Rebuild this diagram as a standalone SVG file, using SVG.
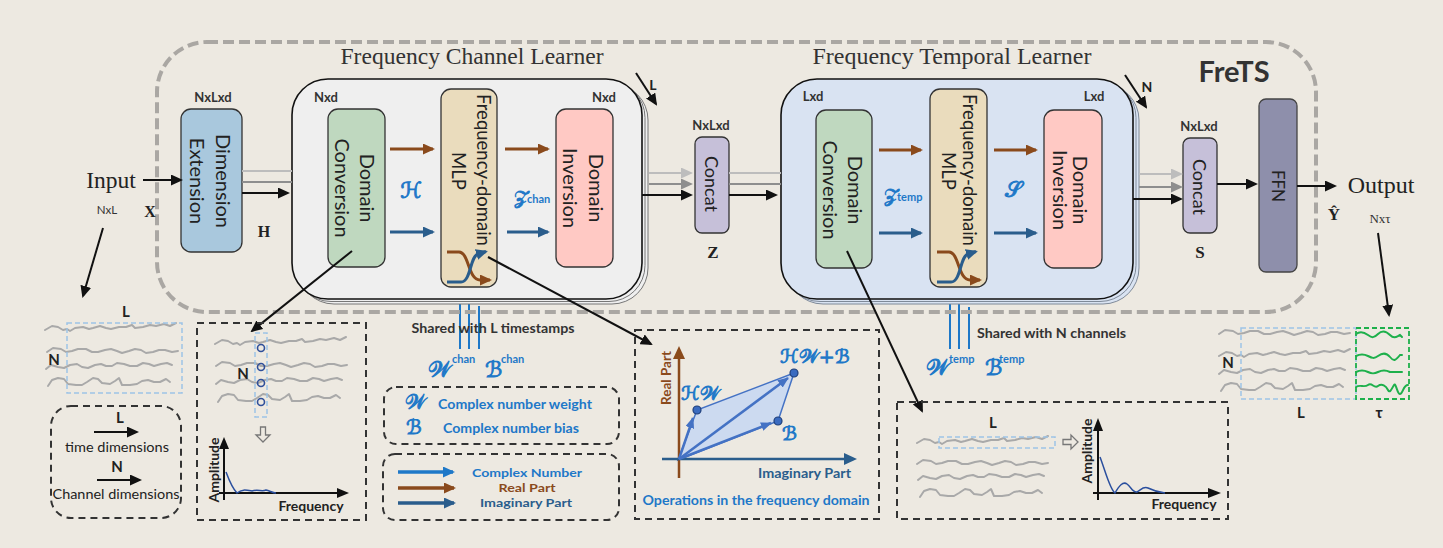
<svg xmlns="http://www.w3.org/2000/svg" width="1443" height="548" viewBox="0 0 1443 548">
<style>
.sans{font-family:Lato,"Open Sans","Noto Sans",sans-serif;}
.serif{font-family:"Liberation Serif","DejaVu Serif",serif;}
.math{font-family:"DejaVu Serif","DejaVu Sans","Noto Sans",serif;fill:#1E78C8;stroke:#1E78C8;stroke-width:0.9;}
.bt{font-family:Lato,"Open Sans",sans-serif;font-size:20px;fill:#222;text-anchor:middle;}
.lbl{font-family:Lato,"Open Sans",sans-serif;font-size:13px;font-weight:700;fill:#333;text-anchor:middle;}
.box{stroke:#333;stroke-width:1.3;}
.wave{fill:none;stroke:#A9A9A9;stroke-width:2;stroke-linecap:round;stroke-linejoin:round;}
.gwave{fill:none;stroke:#1DB04B;stroke-width:2;stroke-linecap:round;}
.dash{fill:none;stroke:#333;stroke-width:2;stroke-dasharray:7 5;}
.bdash{fill:none;stroke:#9DC3E6;stroke-width:1.5;stroke-dasharray:5 3;}
.blk{stroke:#111;stroke-width:2;fill:none;}
.br{stroke:#8A4A1C;stroke-width:3;fill:none;}
.db{stroke:#2A5D8C;stroke-width:3;fill:none;}
.bl{stroke:#1E78C8;stroke-width:2;fill:none;}
</style>
<defs>
<marker id="hk" markerUnits="userSpaceOnUse" viewBox="0 0 12 11" refX="10" refY="5.5" markerWidth="12" markerHeight="11" orient="auto"><path d="M0,0L12,5.5L0,11z" fill="#111"/></marker>
<marker id="hlg" markerUnits="userSpaceOnUse" viewBox="0 0 12 11" refX="10" refY="5.5" markerWidth="12" markerHeight="11" orient="auto"><path d="M0,0L12,5.5L0,11z" fill="#BDBDBD"/></marker>
<marker id="hg" markerUnits="userSpaceOnUse" viewBox="0 0 12 11" refX="10" refY="5.5" markerWidth="12" markerHeight="11" orient="auto"><path d="M0,0L12,5.5L0,11z" fill="#8E8E8E"/></marker>
<marker id="hbr" markerUnits="userSpaceOnUse" viewBox="0 0 12 11" refX="10" refY="5.5" markerWidth="12" markerHeight="11" orient="auto"><path d="M0,0L12,5.5L0,11z" fill="#8A4A1C"/></marker>
<marker id="hdb" markerUnits="userSpaceOnUse" viewBox="0 0 12 11" refX="10" refY="5.5" markerWidth="12" markerHeight="11" orient="auto"><path d="M0,0L12,5.5L0,11z" fill="#2A5D8C"/></marker>
<marker id="hbl" markerUnits="userSpaceOnUse" viewBox="0 0 12 11" refX="10" refY="5.5" markerWidth="12" markerHeight="11" orient="auto"><path d="M0,0L12,5.5L0,11z" fill="#1E78C8"/></marker>
<marker id="hop" markerUnits="userSpaceOnUse" viewBox="0 0 11 9" refX="10" refY="4.5" markerWidth="11" markerHeight="9" orient="auto"><path d="M0,0L11,4.5L0,9z" fill="#4472C4"/></marker>
<path id="w1" d="M0,2 l7,-4 l6,1 l5,3 l4,-1 l3,2 l5,-3 l8,-1 l6,2 l4,-1 l7,-2 l6,2 l5,1 l8,-2 l7,0 l6,-2 l3,3 l8,-1 l7,-2 l6,1 l8,-2 l6,2 l6,-3"/>
<path id="w2" d="M0,1 l6,-4 l8,1 l5,3 l6,-1 l6,-2 l8,0 l6,3 l6,0 l7,-2 l6,-1 l6,2 l5,2 l7,-2 l6,-2 l6,1 l5,3 l7,-1 l6,-2 l6,0 l7,2 l6,-1"/>
<path id="w3" d="M0,3 l5,-4 l7,2 l6,1 l6,-3 l7,-1 l5,3 l6,1 l7,-3 l6,-1 l5,2 l6,0 l5,-3 l7,1 l6,2 l7,0 l6,-3 l6,1 l5,2 l7,-2 l6,-1 l5,2"/>
<path id="w4" d="M0,6 l4,-6 l6,-2 l6,1 l4,5 l8,1 l6,0 l5,-3 l6,-4 l5,1 l4,4 l8,1 l5,-3 l4,-3 l3,7 l8,0 l7,-1 l5,-3 l6,-1 l6,2 l6,0 l6,-3 l4,3"/>
</defs>
<rect width="1443" height="548" fill="#EDE9E1"/>

<g id="shared-lines">
<line x1="460" y1="349" x2="460" y2="291" class="bl" marker-end="url(#hbl)"/>
<line x1="469" y1="349" x2="469" y2="303" class="bl"/>
<line x1="479" y1="349" x2="479" y2="306" class="bl"/>
<line x1="950" y1="349" x2="950" y2="291" class="bl" marker-end="url(#hbl)"/>
<line x1="959" y1="349" x2="959" y2="303" class="bl"/>
<line x1="969" y1="349" x2="969" y2="307" class="bl"/>
</g>

<g id="frets-frame">
<rect x="157" y="42" width="1159" height="270" rx="50" fill="none" stroke="#AAA7A3" stroke-width="4" stroke-dasharray="11 5"/>
<text x="1234" y="82" class="sans" font-size="29" font-weight="700" fill="#333" text-anchor="middle">FreTS</text>
</g>

<g id="input">
<text x="111" y="188" class="serif" font-size="23.5" fill="#222" text-anchor="middle">Input</text>
<text x="107" y="214" class="sans" font-size="11.5" fill="#333" text-anchor="middle">NxL</text>
<text x="150" y="217" class="serif" font-size="16" font-weight="700" fill="#222" text-anchor="middle">X</text>
</g>

<g id="dim-ext">
<text x="213" y="102" class="lbl">NxLxd</text>
<rect x="181" y="109" width="61" height="143" rx="10" fill="#A9C8DD" class="box"/>
<text class="bt" transform="translate(216,181) rotate(90)">Dimension</text>
<text class="bt" transform="translate(190,181) rotate(90)">Extension</text>
<text x="264" y="237" class="serif" font-size="16" font-weight="700" fill="#222" text-anchor="middle">H</text>
</g>

<g id="channel-learner">
<text x="472" y="64" class="serif" font-size="23" fill="#333" text-anchor="middle" textLength="263" lengthAdjust="spacingAndGlyphs">Frequency Channel Learner</text>
<rect x="298" y="84" width="350" height="220" rx="36" fill="#EFEFEF" stroke="#777" stroke-width="1"/>
<rect x="295" y="81.5" width="350" height="220" rx="36" fill="#EFEFEF" stroke="#777" stroke-width="1"/>
<rect x="292" y="79" width="350" height="220" rx="36" fill="#EFEFEF" stroke="#111" stroke-width="1.6"/>
<text x="326" y="102" class="lbl">Nxd</text>
<text x="604" y="102" class="lbl">Nxd</text>
</g>

<g id="dc1">
<rect x="328" y="109" width="57" height="158" rx="10" fill="#BFD8BF" class="box"/>
<text class="bt" transform="translate(360,188) rotate(90)">Domain</text>
<text class="bt" transform="translate(335,188) rotate(90)">Conversion</text>
</g>

<g id="mlp1">
<rect x="441" y="89" width="56" height="198" rx="10" fill="#EADCBD" class="box"/>
<text class="bt" style="font-size:18.5px" transform="translate(477,170) rotate(90)">Frequency-domain</text>
<text class="bt" style="font-size:18.5px" transform="translate(452,171) rotate(90)">MLP</text>
<path d="M447,252 L459,252 C469,252 468,280 480,280 L490,280" class="br" stroke-width="2.5" marker-end="url(#hbr)"/>
<path d="M447,282 L461,282 C471,282 470,256 478,254 L486,251.5" class="db" stroke-width="2.5" marker-end="url(#hdb)"/>
</g>

<g id="di1">
<rect x="556" y="109" width="57" height="158" rx="10" fill="#FFC9C4" class="box"/>
<text class="bt" transform="translate(589,188) rotate(90)">Domain</text>
<text class="bt" transform="translate(563,188) rotate(90)">Inversion</text>
</g>

<g id="chan-labels">
<text x="411" y="198" class="math" font-size="22" text-anchor="middle">ℋ</text>
<text x="514" y="204" class="math" font-size="19">𝒵</text>
<text x="527" y="203" class="sans" font-size="11" font-weight="700" fill="#1E78C8">chan</text>
</g>

<g id="concat1">
<text x="711" y="130" class="lbl">NxLxd</text>
<rect x="695" y="137" width="34" height="96" rx="7" fill="#C6C0D9" class="box"/>
<text class="bt" style="font-size:18px" transform="translate(705,184) rotate(90)">Concat</text>
<text x="713" y="258" class="serif" font-size="17" font-weight="700" fill="#222" text-anchor="middle">Z</text>
</g>

<g id="temporal-learner">
<text x="952" y="64" class="serif" font-size="23" fill="#333" text-anchor="middle" textLength="279" lengthAdjust="spacingAndGlyphs">Frequency Temporal Learner</text>
<rect x="787" y="84" width="352" height="220" rx="36" fill="#D9E3F2" stroke="#7F8A99" stroke-width="1"/>
<rect x="784" y="81.5" width="352" height="220" rx="36" fill="#D9E3F2" stroke="#7F8A99" stroke-width="1"/>
<rect x="781" y="79" width="352" height="220" rx="36" fill="#D9E3F2" stroke="#111" stroke-width="1.6"/>
<text x="813" y="101" class="lbl">Lxd</text>
<text x="1094" y="101" class="lbl">Lxd</text>
</g>

<g id="dc2">
<rect x="816" y="110" width="56" height="158" rx="10" fill="#BFD8BF" class="box"/>
<text class="bt" transform="translate(848,190) rotate(90)">Domain</text>
<text class="bt" transform="translate(823,190) rotate(90)">Conversion</text>
</g>

<g id="mlp2">
<rect x="930" y="89" width="57" height="198" rx="10" fill="#EADCBD" class="box"/>
<text class="bt" style="font-size:18.5px" transform="translate(963,170) rotate(90)">Frequency-domain</text>
<text class="bt" style="font-size:18.5px" transform="translate(942,171) rotate(90)">MLP</text>
<path d="M937,252 L949,252 C959,252 958,280 970,280 L980,280" class="br" stroke-width="2.5" marker-end="url(#hbr)"/>
<path d="M937,282 L951,282 C961,282 960,256 968,254 L976,251.5" class="db" stroke-width="2.5" marker-end="url(#hdb)"/>
</g>

<g id="di2">
<rect x="1044" y="110" width="58" height="158" rx="10" fill="#FFC9C4" class="box"/>
<text class="bt" transform="translate(1073,190) rotate(90)">Domain</text>
<text class="bt" transform="translate(1053,190) rotate(90)">Inversion</text>
</g>

<g id="temp-labels">
<text x="884" y="202" class="math" font-size="19">𝒵</text>
<text x="897" y="201" class="sans" font-size="11" font-weight="700" fill="#1E78C8">temp</text>
<text x="1013" y="197" class="math" font-size="22" text-anchor="middle">𝒮</text>
</g>

<g id="concat2">
<text x="1199" y="131" class="lbl">NxLxd</text>
<rect x="1183" y="138" width="34" height="95" rx="7" fill="#C6C0D9" class="box"/>
<text class="bt" style="font-size:18px" transform="translate(1193,187) rotate(90)">Concat</text>
<text x="1200" y="258" class="serif" font-size="17" font-weight="700" fill="#222" text-anchor="middle">S</text>
</g>

<g id="ffn">
<rect x="1259" y="99" width="38" height="173" rx="7" fill="#8E8FAB" stroke="#444" stroke-width="1.3"/>
<text class="bt" style="font-size:17px" transform="translate(1272,186) rotate(90)">FFN</text>
</g>

<g id="output">
<text x="1381" y="193" class="serif" font-size="24" fill="#222" text-anchor="middle">Output</text>
<text x="1334" y="220" class="serif" font-size="17" font-weight="700" fill="#222" text-anchor="middle">Ŷ</text>
<text x="1380" y="223" class="serif" font-size="13" fill="#333" text-anchor="middle">Nxτ</text>
</g>

<g id="connectors">
<line x1="143" y1="180" x2="181" y2="180" class="blk" marker-end="url(#hk)"/>
<line x1="242" y1="171" x2="292" y2="171" stroke="#BDBDBD" stroke-width="2"/>
<line x1="242" y1="182" x2="292" y2="182" stroke="#8E8E8E" stroke-width="2"/>
<line x1="242" y1="193" x2="288" y2="193" class="blk" marker-end="url(#hk)"/>
<line x1="390" y1="149" x2="433" y2="149" class="br" marker-end="url(#hbr)"/>
<line x1="390" y1="232" x2="433" y2="232" class="db" marker-end="url(#hdb)"/>
<line x1="505" y1="149" x2="548" y2="149" class="br" marker-end="url(#hbr)"/>
<line x1="507" y1="232" x2="548" y2="232" class="db" marker-end="url(#hdb)"/>
<line x1="649" y1="173" x2="691" y2="173" stroke="#BDBDBD" stroke-width="2" marker-end="url(#hlg)"/>
<line x1="649" y1="184" x2="691" y2="184" stroke="#8E8E8E" stroke-width="2" marker-end="url(#hg)"/>
<line x1="642" y1="195" x2="691" y2="195" class="blk" marker-end="url(#hk)"/>
<line x1="729" y1="173" x2="781" y2="173" stroke="#BDBDBD" stroke-width="2"/>
<line x1="729" y1="184" x2="781" y2="184" stroke="#8E8E8E" stroke-width="2"/>
<line x1="729" y1="195" x2="776" y2="195" class="blk" marker-end="url(#hk)"/>
<line x1="879" y1="150" x2="921" y2="150" class="br" marker-end="url(#hbr)"/>
<line x1="879" y1="233" x2="921" y2="233" class="db" marker-end="url(#hdb)"/>
<line x1="994" y1="150" x2="1036" y2="150" class="br" marker-end="url(#hbr)"/>
<line x1="994" y1="233" x2="1036" y2="233" class="db" marker-end="url(#hdb)"/>
<line x1="1139" y1="174" x2="1181" y2="174" stroke="#BDBDBD" stroke-width="2" marker-end="url(#hlg)"/>
<line x1="1139" y1="187" x2="1181" y2="187" stroke="#8E8E8E" stroke-width="2" marker-end="url(#hg)"/>
<line x1="1133" y1="199" x2="1181" y2="199" class="blk" marker-end="url(#hk)"/>
<line x1="1217" y1="184" x2="1256" y2="184" class="blk" marker-end="url(#hk)"/>
<line x1="1297" y1="186" x2="1335" y2="186" class="blk" marker-end="url(#hk)"/>
<line x1="636" y1="73" x2="656" y2="104" class="blk" marker-end="url(#hk)"/>
<line x1="1125" y1="75" x2="1146" y2="107" class="blk" marker-end="url(#hk)"/>
<line x1="103" y1="228" x2="83" y2="296" class="blk" marker-end="url(#hk)"/>
<line x1="1378" y1="233" x2="1389" y2="315" class="blk" marker-end="url(#hk)"/>
<line x1="352" y1="251" x2="252" y2="331" class="blk" marker-end="url(#hk)"/>
<line x1="488" y1="257" x2="651" y2="344" class="blk" marker-end="url(#hk)"/>
<line x1="847" y1="251" x2="922" y2="411" class="blk" marker-end="url(#hk)"/>
</g>

<g id="dim-labels">
<text x="653" y="90" class="sans" font-size="14" font-weight="700" fill="#222" text-anchor="middle">L</text>
<text x="1147" y="92" class="sans" font-size="14" font-weight="700" fill="#222" text-anchor="middle">N</text>
</g>

<g id="input-series">
<use href="#w1" x="45" y="328" class="wave"/>
<use href="#w2" x="47" y="351" class="wave"/>
<use href="#w3" x="46" y="366" class="wave"/>
<use href="#w4" x="48" y="380" class="wave"/>
<rect x="67" y="323" width="115" height="70" class="bdash"/>
<text x="126" y="317" class="sans" font-size="15" font-weight="700" fill="#222" text-anchor="middle">L</text>
<text x="54" y="365" class="sans" font-size="15" font-weight="700" fill="#222" text-anchor="middle">N</text>
</g>

<g id="legend-dims">
<rect x="51" y="406" width="130" height="112" rx="20" class="dash"/>
<text x="120" y="423" class="sans" font-size="15" font-weight="700" fill="#222" text-anchor="middle">L</text>
<line x1="94" y1="432" x2="137" y2="432" class="blk" marker-end="url(#hk)"/>
<text x="117" y="452" class="sans" font-size="14" fill="#222" text-anchor="middle" textLength="104" lengthAdjust="spacingAndGlyphs">time dimensions</text>
<text x="117" y="472" class="sans" font-size="15" font-weight="700" fill="#222" text-anchor="middle">N</text>
<line x1="97" y1="480" x2="140" y2="480" class="blk" marker-end="url(#hk)"/>
<text x="116" y="499" class="sans" font-size="14" fill="#222" text-anchor="middle" textLength="127" lengthAdjust="spacingAndGlyphs">Channel dimensions</text>
</g>

<g id="channel-spectrum">
<rect x="197" y="323" width="169" height="197" class="dash"/>
<use href="#w1" x="215" y="342" class="wave"/>
<use href="#w2" x="216" y="365" class="wave"/>
<use href="#w3" x="216" y="381" class="wave"/>
<use href="#w4" x="218" y="396" class="wave"/>
<rect x="255" y="333" width="12" height="84" class="bdash"/>
<g fill="none" stroke="#2F4F9A" stroke-width="1.6">
<circle cx="261" cy="348" r="3.5"/><circle cx="261" cy="367" r="3.5"/><circle cx="261" cy="383" r="3.5"/><circle cx="261" cy="402" r="3.5"/>
</g>
<text x="243" y="379" class="sans" font-size="15" font-weight="700" fill="#222" text-anchor="middle">N</text>
<polygon points="260.5,427 265.5,427 265.5,435 270,435 263,442 256,435 260.5,435" fill="none" stroke="#777" stroke-width="1.3"/>
<line x1="224" y1="500" x2="224" y2="448" class="blk"/>
<polygon points="224,437 219,449 229,449" fill="#111"/>
<line x1="219" y1="493" x2="338" y2="493" class="blk"/>
<polygon points="349,493 337,488 337,498" fill="#111"/>
<path d="M226,472 C229,480 232,488 237,493 C242,489 246,490 252,491 C258,489 262,492 266,490 C270,491 273,493 276,493" fill="none" stroke="#2A4F9E" stroke-width="1.5"/>
<text class="sans" font-size="14" font-weight="700" fill="#222" text-anchor="middle" transform="translate(219,470) rotate(-90)">Amplitude</text>
<text x="311" y="511" class="sans" font-size="14" font-weight="700" fill="#222" text-anchor="middle">Frequency</text>
</g>

<g id="chan-params">
<text x="493" y="333" class="sans" font-size="13.5" font-weight="700" fill="#333" text-anchor="middle" textLength="163" lengthAdjust="spacingAndGlyphs">Shared with L timestamps</text>
<text x="428" y="377" class="math" font-size="22">𝒲</text>
<text x="452" y="363" class="sans" font-size="11" font-weight="700" fill="#1E78C8">chan</text>
<text x="485" y="377" class="math" font-size="22">ℬ</text>
<text x="501" y="363" class="sans" font-size="11" font-weight="700" fill="#1E78C8">chan</text>
</g>

<g id="legend-params">
<rect x="384" y="387" width="235" height="57" rx="12" class="dash"/>
<text x="405" y="409" class="math" font-size="20">𝒲</text>
<text x="438" y="409" class="sans" font-size="14" font-weight="700" fill="#1E78C8" textLength="154" lengthAdjust="spacingAndGlyphs">Complex number weight</text>
<text x="406" y="434" class="math" font-size="20">ℬ</text>
<text x="443" y="433" class="sans" font-size="14" font-weight="700" fill="#1E78C8" textLength="136" lengthAdjust="spacingAndGlyphs">Complex number bias</text>
</g>

<g id="legend-arrows">
<rect x="383" y="454" width="236" height="66" rx="12" class="dash"/>
<line x1="398" y1="472" x2="453" y2="472" stroke="#1E78C8" stroke-width="3.5" marker-end="url(#hbl)"/>
<line x1="398" y1="488" x2="454" y2="488" stroke="#8A4A1C" stroke-width="3.5" marker-end="url(#hbr)"/>
<line x1="398" y1="503" x2="454" y2="503" stroke="#2A5D8C" stroke-width="3.5" marker-end="url(#hdb)"/>
<text x="527" y="477" class="sans" font-size="12" font-weight="700" fill="#1E78C8" text-anchor="middle" textLength="110" lengthAdjust="spacingAndGlyphs">Complex Number</text>
<text x="527" y="492" class="sans" font-size="12" font-weight="700" fill="#8A4A1C" text-anchor="middle" textLength="57" lengthAdjust="spacingAndGlyphs">Real Part</text>
<text x="526" y="507" class="sans" font-size="12" font-weight="700" fill="#2A5D8C" text-anchor="middle" textLength="92" lengthAdjust="spacingAndGlyphs">Imaginary Part</text>
</g>

<g id="ops-box">
<rect x="635" y="330" width="244" height="189" class="dash"/>
<polygon points="678,460 697,410 794,373 778,421" fill="#CCDAF0" stroke="#4472C4" stroke-width="1.5"/>
<line x1="679" y1="478" x2="679" y2="358" stroke="#8A4A1C" stroke-width="2.5"/>
<polygon points="679,346 673,359 685,359" fill="#8A4A1C"/>
<line x1="662" y1="459" x2="845" y2="459" stroke="#2A5D8C" stroke-width="2.5"/>
<polygon points="857,459 844,453 844,465" fill="#2A5D8C"/>
<line x1="679" y1="459" x2="693" y2="418" stroke="#4472C4" stroke-width="2.5" marker-end="url(#hop)"/>
<line x1="679" y1="459" x2="771" y2="423" stroke="#4472C4" stroke-width="2.5" marker-end="url(#hop)"/>
<line x1="679" y1="459" x2="788" y2="378" stroke="#4472C4" stroke-width="2.5" marker-end="url(#hop)"/>
<g fill="#3A6BC0" stroke="#1F3F7A" stroke-width="1.2">
<circle cx="697" cy="410" r="4"/><circle cx="778" cy="421" r="4"/><circle cx="794" cy="373" r="4"/>
</g>
<text class="sans" font-size="13.5" font-weight="700" fill="#8A4A1C" text-anchor="middle" transform="translate(671,378) rotate(-90)">Real Part</text>
<text x="758" y="478" class="sans" font-size="13.5" font-weight="700" fill="#2A5D8C" textLength="93" lengthAdjust="spacingAndGlyphs">Imaginary Part</text>
<text x="681" y="400" class="math" font-size="19">ℋ𝒲</text>
<text x="780" y="363" class="math" font-size="19">ℋ𝒲+ℬ</text>
<text x="782" y="440" class="math" font-size="19">ℬ</text>
<text x="756" y="505" class="sans" font-size="13.5" font-weight="700" fill="#1E78C8" text-anchor="middle" textLength="227" lengthAdjust="spacingAndGlyphs">Operations in the frequency domain</text>
</g>

<g id="temp-params">
<text x="977" y="338" class="sans" font-size="13.5" font-weight="700" fill="#333" textLength="149" lengthAdjust="spacingAndGlyphs">Shared with N channels</text>
<text x="926" y="375" class="math" font-size="22">𝒲</text>
<text x="949" y="363" class="sans" font-size="11" font-weight="700" fill="#1E78C8">temp</text>
<text x="985" y="375" class="math" font-size="22">ℬ</text>
<text x="999" y="363" class="sans" font-size="11" font-weight="700" fill="#1E78C8">temp</text>
</g>

<g id="temporal-spectrum">
<rect x="897" y="402" width="331" height="117" class="dash"/>
<text x="993" y="428" class="sans" font-size="15" font-weight="700" fill="#222" text-anchor="middle">L</text>
<use href="#w1" x="917" y="441" class="wave"/>
<use href="#w2" x="917" y="463" class="wave"/>
<use href="#w3" x="918" y="477" class="wave"/>
<use href="#w4" x="920" y="491" class="wave"/>
<rect x="939" y="437" width="116" height="11" class="bdash"/>
<polygon points="1063,439.5 1071,439.5 1071,435 1078,442 1071,449 1071,444.5 1063,444.5" fill="none" stroke="#777" stroke-width="1.3"/>
<line x1="1098" y1="500" x2="1098" y2="430" class="blk"/>
<polygon points="1098,418 1093,431 1103,431" fill="#111"/>
<line x1="1093" y1="493" x2="1209" y2="493" class="blk"/>
<polygon points="1221,493 1208,488 1208,498" fill="#111"/>
<path d="M1100,457 C1105,470 1110,490 1115,493 C1119,486 1123,481 1127,484 C1131,487 1133,493 1137,492 C1141,490 1143,486 1148,488 C1152,490 1156,492 1165,493" fill="none" stroke="#2A4F9E" stroke-width="1.5"/>
<text class="sans" font-size="14" font-weight="700" fill="#222" text-anchor="middle" transform="translate(1092,451) rotate(-90)">Amplitude</text>
<text x="1184" y="509" class="sans" font-size="14" font-weight="700" fill="#222" text-anchor="middle">Frequency</text>
</g>

<g id="output-series">
<use href="#w2" x="1219" y="333" class="wave"/>
<use href="#w1" x="1219" y="354" class="wave"/>
<use href="#w3" x="1219" y="371" class="wave"/>
<use href="#w4" x="1221" y="385" class="wave"/>
<path d="M1356,334 c4,-3 8,-2 12,1 s6,3 10,-1 s8,-3 12,1 s6,2 10,0 l2,2" class="gwave"/>
<path d="M1356,356 c4,-2 8,-2 12,0 s6,3 10,0 s8,-4 12,1 s6,3 10,-2 l2,0" class="gwave"/>
<path d="M1356,372 c4,-2 8,-2 12,0 s6,2 10,0 s8,-2 12,0 l12,0" class="gwave"/>
<path d="M1356,387 c4,-3 8,1 12,-2 s6,4 10,1 s8,0 10,4 s4,-2 6,-5 s3,9 6,9 s3,-9 8,-9" class="gwave"/>
<rect x="1241" y="328" width="115" height="71" class="bdash"/>
<rect x="1356" y="328" width="53" height="71" fill="none" stroke="#1DB04B" stroke-width="1.8" stroke-dasharray="5 3"/>
<text x="1228" y="368" class="sans" font-size="15" font-weight="700" fill="#222" text-anchor="middle">N</text>
<text x="1301" y="418" class="sans" font-size="15" font-weight="700" fill="#222" text-anchor="middle">L</text>
<text x="1379" y="418" class="sans" font-size="15" font-weight="700" fill="#222" text-anchor="middle">τ</text>
</g>
</svg>
